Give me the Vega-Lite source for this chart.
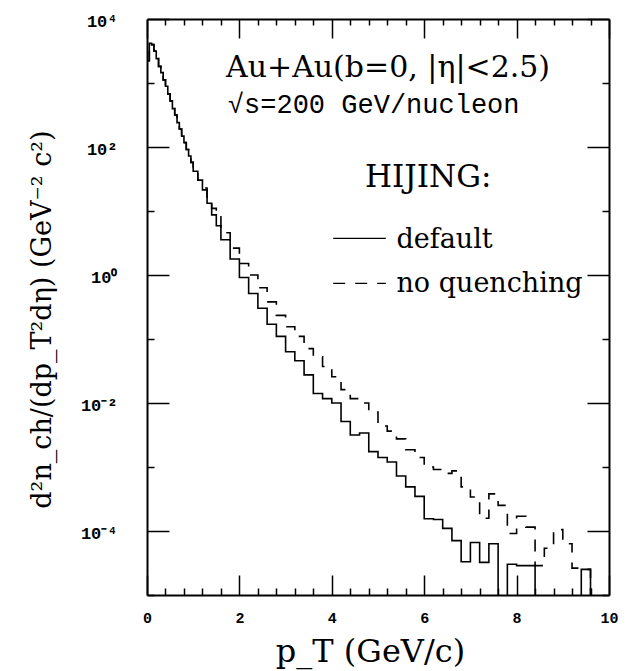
{
  "$schema": "https://vega.github.io/schema/vega-lite/v6.json",
  "width": 462,
  "height": 576,
  "autosize": {"type": "none"},
  "padding": {"left": 147, "top": 19, "right": 33, "bottom": 76},
  "background": "white",
  "config": {
    "view": {"stroke": null},
    "axis": {"domainColor": "black", "domainWidth": 2, "tickColor": "black", "tickWidth": 1.5, "labelColor": "black", "titleColor": "black", "grid": false}
  },
  "datasets": {
    "hist": [
      {"pt": 0, "v": 2240, "s": "default"}, {"pt": 0.05, "v": 4170, "s": "default"}, {"pt": 0.1, "v": 3980, "s": "default"}, {"pt": 0.15, "v": 3160, "s": "default"}, {"pt": 0.2, "v": 2400, "s": "default"}, {"pt": 0.25, "v": 1820, "s": "default"}, {"pt": 0.3, "v": 1450, "s": "default"}, {"pt": 0.35, "v": 1120, "s": "default"}, {"pt": 0.4, "v": 891, "s": "default"}, {"pt": 0.45, "v": 676, "s": "default"}, {"pt": 0.5, "v": 525, "s": "default"}, {"pt": 0.55, "v": 398, "s": "default"}, {"pt": 0.6, "v": 316, "s": "default"}, {"pt": 0.65, "v": 240, "s": "default"}, {"pt": 0.7, "v": 191, "s": "default"}, {"pt": 0.75, "v": 148, "s": "default"}, {"pt": 0.8, "v": 117, "s": "default"}, {"pt": 0.85, "v": 91.2, "s": "default"}, {"pt": 0.9, "v": 72.4, "s": "default"}, {"pt": 0.95, "v": 57.5, "s": "default"}, {"pt": 1.0, "v": 41.7, "s": "default"}, {"pt": 1.1, "v": 30.2, "s": "default"}, {"pt": 1.2, "v": 21.4, "s": "default"}, {"pt": 1.3, "v": 13.2, "s": "default"}, {"pt": 1.4, "v": 8.71, "s": "default"}, {"pt": 1.5, "v": 5.89, "s": "default"}, {"pt": 1.6, "v": 3.55, "s": "default"}, {"pt": 1.8, "v": 1.78, "s": "default"}, {"pt": 2.0, "v": 0.912, "s": "default"}, {"pt": 2.2, "v": 0.513, "s": "default"}, {"pt": 2.4, "v": 0.302, "s": "default"}, {"pt": 2.6, "v": 0.17, "s": "default"}, {"pt": 2.8, "v": 0.11, "s": "default"}, {"pt": 3.0, "v": 0.0631, "s": "default"}, {"pt": 3.2, "v": 0.0457, "s": "default"}, {"pt": 3.4, "v": 0.0275, "s": "default"}, {"pt": 3.6, "v": 0.0141, "s": "default"}, {"pt": 3.8, "v": 0.0117, "s": "default"}, {"pt": 4.0, "v": 0.01, "s": "default"}, {"pt": 4.2, "v": 0.00513, "s": "default"}, {"pt": 4.4, "v": 0.00316, "s": "default"}, {"pt": 4.6, "v": 0.00339, "s": "default"}, {"pt": 4.8, "v": 0.00174, "s": "default"}, {"pt": 5.0, "v": 0.00141, "s": "default"}, {"pt": 5.2, "v": 0.0012, "s": "default"}, {"pt": 5.4, "v": 0.000724, "s": "default"}, {"pt": 5.6, "v": 0.00049, "s": "default"}, {"pt": 5.8, "v": 0.000347, "s": "default"}, {"pt": 6.0, "v": 0.000155, "s": "default"}, {"pt": 6.2, "v": 0.000151, "s": "default"}, {"pt": 6.4, "v": 0.00011, "s": "default"}, {"pt": 6.6, "v": 0.0000708, "s": "default"}, {"pt": 6.8, "v": 0.0000331, "s": "default"}, {"pt": 7.0, "v": 0.0000661, "s": "default"}, {"pt": 7.2, "v": 0.0000324, "s": "default"}, {"pt": 7.4, "v": 0.0000631, "s": "default"}, {"pt": 7.6, "v": 1e-7, "s": "default"}, {"pt": 7.8, "v": 0.0000302, "s": "default"}, {"pt": 8.0, "v": 0.0000288, "s": "default"}, {"pt": 8.2, "v": 0.0000288, "s": "default"}, {"pt": 8.4, "v": 1e-7, "s": "default"}, {"pt": 9.4, "v": 0.0000251, "s": "default"}, {"pt": 9.6, "v": 1e-7, "s": "default"}, {"pt": 10, "v": 1e-7, "s": "default"},
      {"pt": 0, "v": 2240, "s": "no quenching"}, {"pt": 0.05, "v": 4170, "s": "no quenching"}, {"pt": 0.1, "v": 3980, "s": "no quenching"}, {"pt": 0.15, "v": 3160, "s": "no quenching"}, {"pt": 0.2, "v": 2400, "s": "no quenching"}, {"pt": 0.25, "v": 1820, "s": "no quenching"}, {"pt": 0.3, "v": 1450, "s": "no quenching"}, {"pt": 0.35, "v": 1120, "s": "no quenching"}, {"pt": 0.4, "v": 891, "s": "no quenching"}, {"pt": 0.45, "v": 676, "s": "no quenching"}, {"pt": 0.5, "v": 525, "s": "no quenching"}, {"pt": 0.55, "v": 398, "s": "no quenching"}, {"pt": 0.6, "v": 316, "s": "no quenching"}, {"pt": 0.65, "v": 240, "s": "no quenching"}, {"pt": 0.7, "v": 191, "s": "no quenching"}, {"pt": 0.75, "v": 148, "s": "no quenching"}, {"pt": 0.8, "v": 117, "s": "no quenching"}, {"pt": 0.85, "v": 91.2, "s": "no quenching"}, {"pt": 0.9, "v": 72.4, "s": "no quenching"}, {"pt": 0.95, "v": 57.5, "s": "no quenching"}, {"pt": 1.0, "v": 41.7, "s": "no quenching"}, {"pt": 1.1, "v": 30.2, "s": "no quenching"}, {"pt": 1.2, "v": 22.9, "s": "no quenching"}, {"pt": 1.3, "v": 14.1, "s": "no quenching"}, {"pt": 1.4, "v": 11.0, "s": "no quenching"}, {"pt": 1.5, "v": 8.13, "s": "no quenching"}, {"pt": 1.6, "v": 4.57, "s": "no quenching"}, {"pt": 1.8, "v": 2.63, "s": "no quenching"}, {"pt": 2.0, "v": 1.51, "s": "no quenching"}, {"pt": 2.2, "v": 1.0, "s": "no quenching"}, {"pt": 2.4, "v": 0.631, "s": "no quenching"}, {"pt": 2.6, "v": 0.38, "s": "no quenching"}, {"pt": 2.8, "v": 0.234, "s": "no quenching"}, {"pt": 3.0, "v": 0.155, "s": "no quenching"}, {"pt": 3.2, "v": 0.11, "s": "no quenching"}, {"pt": 3.4, "v": 0.0708, "s": "no quenching"}, {"pt": 3.6, "v": 0.0525, "s": "no quenching"}, {"pt": 3.8, "v": 0.0372, "s": "no quenching"}, {"pt": 4.0, "v": 0.0257, "s": "no quenching"}, {"pt": 4.2, "v": 0.0162, "s": "no quenching"}, {"pt": 4.4, "v": 0.0117, "s": "no quenching"}, {"pt": 4.6, "v": 0.01, "s": "no quenching"}, {"pt": 4.8, "v": 0.00724, "s": "no quenching"}, {"pt": 5.0, "v": 0.00437, "s": "no quenching"}, {"pt": 5.2, "v": 0.00363, "s": "no quenching"}, {"pt": 5.4, "v": 0.00275, "s": "no quenching"}, {"pt": 5.6, "v": 0.00186, "s": "no quenching"}, {"pt": 5.8, "v": 0.00141, "s": "no quenching"}, {"pt": 6.0, "v": 0.001, "s": "no quenching"}, {"pt": 6.2, "v": 0.000912, "s": "no quenching"}, {"pt": 6.4, "v": 0.000794, "s": "no quenching"}, {"pt": 6.6, "v": 0.000871, "s": "no quenching"}, {"pt": 6.8, "v": 0.00049, "s": "no quenching"}, {"pt": 7.0, "v": 0.000339, "s": "no quenching"}, {"pt": 7.2, "v": 0.000158, "s": "no quenching"}, {"pt": 7.4, "v": 0.00038, "s": "no quenching"}, {"pt": 7.6, "v": 0.000251, "s": "no quenching"}, {"pt": 7.8, "v": 0.0000912, "s": "no quenching"}, {"pt": 8.0, "v": 0.00017, "s": "no quenching"}, {"pt": 8.2, "v": 0.000115, "s": "no quenching"}, {"pt": 8.4, "v": 0.0000288, "s": "no quenching"}, {"pt": 8.6, "v": 0.0000537, "s": "no quenching"}, {"pt": 8.8, "v": 0.000105, "s": "no quenching"}, {"pt": 9.0, "v": 0.0000631, "s": "no quenching"}, {"pt": 9.2, "v": 0.0000263, "s": "no quenching"}, {"pt": 9.4, "v": 0.0000251, "s": "no quenching"}, {"pt": 9.6, "v": 1e-7, "s": "no quenching"}, {"pt": 10, "v": 1e-7, "s": "no quenching"}
    ],
    "legendlines": [
      {"x1": 4.03, "x2": 5.17, "y": 3.74, "s": "default"},
      {"x1": 4.03, "x2": 5.17, "y": 0.741, "s": "no quenching"}
    ]
  },
  "layer": [
    {
      "data": {"name": "hist"},
      "mark": {"type": "line", "interpolate": "step-after", "clip": true, "color": "black", "strokeWidth": 1.6},
      "encoding": {
        "x": {
          "field": "pt", "type": "quantitative",
          "scale": {"domain": [0, 10], "nice": false, "zero": false},
          "axis": {
            "orient": "bottom",
            "values": [0, 0.4, 0.8, 1.2, 1.6, 2, 2.4, 2.8, 3.2, 3.6, 4, 4.4, 4.8, 5.2, 5.6, 6, 6.4, 6.8, 7.2, 7.6, 8, 8.4, 8.8, 9.2, 9.6, 10],
            "tickSize": {"condition": {"test": "datum.value % 2 == 0", "value": -20}, "value": -7},
            "labelExpr": "datum.value % 2 == 0 ? '' + datum.value : ''",
            "labelPadding": 35, "labelFont": "Liberation Mono", "labelFontWeight": "bold", "labelFontSize": 15,
            "labelOverlap": false, "labelFlush": false,
            "title": "p_T  (GeV/c)", "titleFont": "DejaVu Serif", "titleFontSize": 32, "titleFontWeight": "normal",
            "titleX": 223, "titleY": 56, "titleBaseline": "middle", "titleAlign": "center"
          }
        },
        "y": {
          "field": "v", "type": "quantitative",
          "scale": {"type": "log", "domain": [0.00001, 10000], "nice": false},
          "axis": {
            "orient": "left",
            "values": [0.00001, 0.0001, 0.001, 0.01, 0.1, 1, 10, 100, 1000, 10000],
            "tickSize": {"condition": {"test": "datum.value == 10000 || datum.value == 100 || datum.value == 1 || datum.value == 0.01 || datum.value == 0.0001", "value": -22}, "value": -7},
            "labelExpr": "datum.value == 10000 ? '10⁴' : datum.value == 100 ? '10²' : datum.value == 1 ? '10⁰' : datum.value == 0.01 ? '10⁻²' : datum.value == 0.0001 ? '10⁻⁴' : ''",
            "labelPadding": 52, "labelFont": "Liberation Mono", "labelFontWeight": "bold", "labelFontSize": 17,
            "labelOverlap": false, "labelFlush": false, "labelOffset": 2,
            "title": "d²n_ch/(dp_T²dη)  (GeV⁻² c²)", "titleFont": "DejaVu Serif", "titleFontSize": 27, "titleFontWeight": "normal",
            "titleAngle": -90, "titleX": -105, "titleY": 300, "titleAlign": "center", "titleBaseline": "middle"
          }
        },
        "strokeDash": {"field": "s", "type": "nominal", "scale": {"domain": ["default", "no quenching"], "range": [[1, 0], [12, 10]]}, "legend": null}
      }
    },
    {
      "data": {"name": "legendlines"},
      "mark": {"type": "rule", "color": "black", "strokeWidth": 1.4},
      "encoding": {
        "x": {
          "field": "x1", "type": "quantitative",
          "scale": {"domain": [0, 10], "nice": false, "zero": false},
          "axis": {
            "orient": "top",
            "values": [0, 0.4, 0.8, 1.2, 1.6, 2, 2.4, 2.8, 3.2, 3.6, 4, 4.4, 4.8, 5.2, 5.6, 6, 6.4, 6.8, 7.2, 7.6, 8, 8.4, 8.8, 9.2, 9.6, 10],
            "tickSize": {"condition": {"test": "datum.value % 2 == 0", "value": -19}, "value": -6},
            "labels": false, "title": null
          }
        },
        "x2": {"field": "x2"},
        "y": {
          "field": "y", "type": "quantitative",
          "scale": {"type": "log", "domain": [0.00001, 10000], "nice": false},
          "axis": {
            "orient": "right",
            "values": [0.00001, 0.0001, 0.001, 0.01, 0.1, 1, 10, 100, 1000, 10000],
            "tickSize": {"condition": {"test": "datum.value == 10000 || datum.value == 100 || datum.value == 1 || datum.value == 0.01 || datum.value == 0.0001", "value": -22}, "value": -7},
            "labels": false, "title": null
          }
        },
        "strokeDash": {"field": "s", "type": "nominal", "scale": {"domain": ["default", "no quenching"], "range": [[1, 0], [12, 10]]}, "legend": null}
      }
    },
    {
      "data": {"values": [{}]},
      "mark": {"type": "text", "text": "Au+Au(b=0, |η|<2.5)", "font": "DejaVu Serif", "fontSize": 30, "align": "left", "baseline": "alphabetic", "color": "black"},
      "encoding": {
        "x": {"datum": 1.71, "type": "quantitative", "scale": {"domain": [0, 10], "nice": false, "zero": false}, "axis": null},
        "y": {"datum": 1259, "type": "quantitative", "scale": {"type": "log", "domain": [0.00001, 10000], "nice": false}, "axis": null}
      }
    },
    {
      "data": {"values": [{}]},
      "mark": {"type": "text", "text": "√s=200 GeV/nucleon", "font": "Liberation Mono", "fontSize": 27, "align": "left", "baseline": "alphabetic", "color": "black"},
      "encoding": {
        "x": {"datum": 1.75, "type": "quantitative", "scale": {"domain": [0, 10], "nice": false, "zero": false}, "axis": null},
        "y": {"datum": 339, "type": "quantitative", "scale": {"type": "log", "domain": [0.00001, 10000], "nice": false}, "axis": null}
      }
    },
    {
      "data": {"values": [{}]},
      "mark": {"type": "text", "text": "HIJING:", "font": "DejaVu Serif", "fontSize": 31, "align": "left", "baseline": "alphabetic", "color": "black"},
      "encoding": {
        "x": {"datum": 4.72, "type": "quantitative", "scale": {"domain": [0, 10], "nice": false, "zero": false}, "axis": null},
        "y": {"datum": 24.0, "type": "quantitative", "scale": {"type": "log", "domain": [0.00001, 10000], "nice": false}, "axis": null}
      }
    },
    {
      "data": {"values": [{}]},
      "mark": {"type": "text", "text": "default", "font": "DejaVu Serif", "fontSize": 27, "align": "left", "baseline": "alphabetic", "color": "black"},
      "encoding": {
        "x": {"datum": 5.4, "type": "quantitative", "scale": {"domain": [0, 10], "nice": false, "zero": false}, "axis": null},
        "y": {"datum": 2.61, "type": "quantitative", "scale": {"type": "log", "domain": [0.00001, 10000], "nice": false}, "axis": null}
      }
    },
    {
      "data": {"values": [{}]},
      "mark": {"type": "text", "text": "no quenching", "font": "DejaVu Serif", "fontSize": 27, "align": "left", "baseline": "alphabetic", "color": "black"},
      "encoding": {
        "x": {"datum": 5.4, "type": "quantitative", "scale": {"domain": [0, 10], "nice": false, "zero": false}, "axis": null},
        "y": {"datum": 0.55, "type": "quantitative", "scale": {"type": "log", "domain": [0.00001, 10000], "nice": false}, "axis": null}
      }
    }
  ],
  "resolve": {"axis": {"x": "independent", "y": "independent"}}
}
